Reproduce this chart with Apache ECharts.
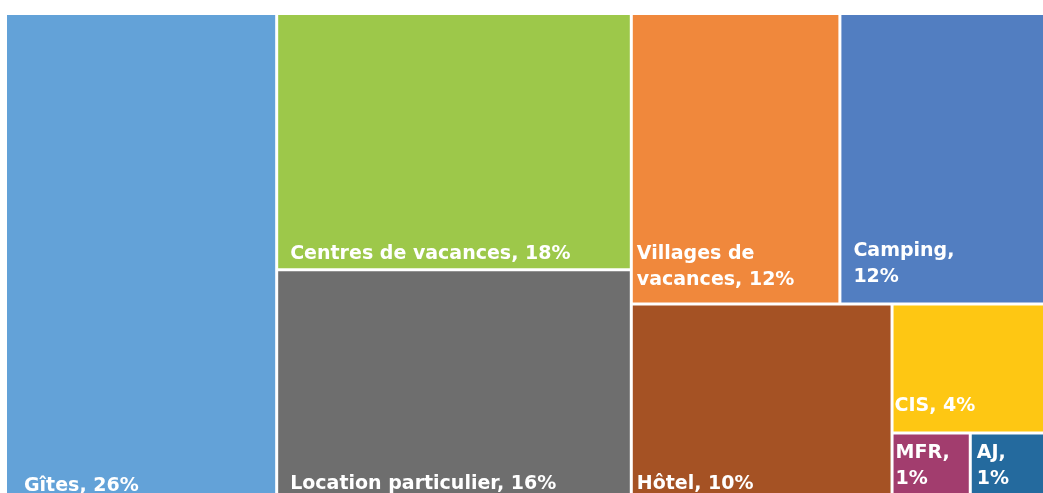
<!DOCTYPE html>
<html>
<head>
<meta charset="utf-8">
<script src="https://cdn.jsdelivr.net/npm/echarts@6/dist/echarts.min.js"></script>
<style>
    html, body { margin: 0; padding: 0; background: #fff; }
    #chart { width: 1043px; height: 493px; }
</style>
</head>
<body>
<div id="chart"></div>
<script>
    // hébergement - répartition en %
    const names = ['Gîtes', 'Centres de vacances', 'Location particulier', 'Villages de vacances', 'Camping', 'Hôtel', 'CIS', 'MFR', 'AJ'];
    const values = [26, 18, 16, 12, 12, 10, 4, 1, 1];
    const colors = ['#63a2d8', '#9dc84a', '#6e6e6e', '#f0883c', '#527ec1', '#a55224', '#fec713', '#a23d6e', '#246a9e'];

    // where the label text wraps
    const breakAfter = { 'Villages de vacances': 'Villages de', 'Camping': 'Camping,', 'MFR': 'MFR,', 'AJ': 'AJ,' };

    // small nudges so labels sit like in the original
    const labelOffsets = {
        'Gîtes': [11, 5],
        'Centres de vacances': [6, 1],
        'Location particulier': [6, 3],
        'Villages de vacances': [-2, -7],
        'Camping': [6, -10],
        'Hôtel': [-2, 3],
        'CIS': [-5, -10],
        'MFR': [-4, -2],
        'AJ': [-1, -2]
    };

    var myChart = echarts.init(document.getElementById('chart'));

    var option = {
        backgroundColor: '#fff',
        series: [
            {
                type: 'treemap',
                left: 7,
                top: 15,
                width: 1040,
                height: 481,
                squareRatio: 1,
                sort: false,
                roam: false,
                nodeClick: false,
                breadcrumb: { show: false },
                animation: false,
                itemStyle: {
                    borderWidth: 0,
                    gapWidth: 3,
                    borderColor: '#fff'
                },
                label: {
                    show: true,
                    position: 'insideBottomLeft',
                    color: '#fff',
                    fontFamily: 'DejaVu Sans',
                    fontWeight: 'bold',
                    fontSize: 19,
                    lineHeight: 26,
                    padding: [0, 0, 2, 6],
                    overflow: 'none',
                    formatter: function (p) {
                        var t = p.name + ', ' + p.value + '%';
                        var b = breakAfter[p.name];
                        return b ? b + '\n' + t.slice(b.length + 1) : t;
                    }
                },
                data: names.map(function (n, i) {
                    return {
                        name: n,
                        value: values[i],
                        itemStyle: { color: colors[i] },
                        label: { offset: labelOffsets[n] }
                    };
                })
            }
        ]
    };
    myChart.setOption(option);
</script>
</body>
</html>
